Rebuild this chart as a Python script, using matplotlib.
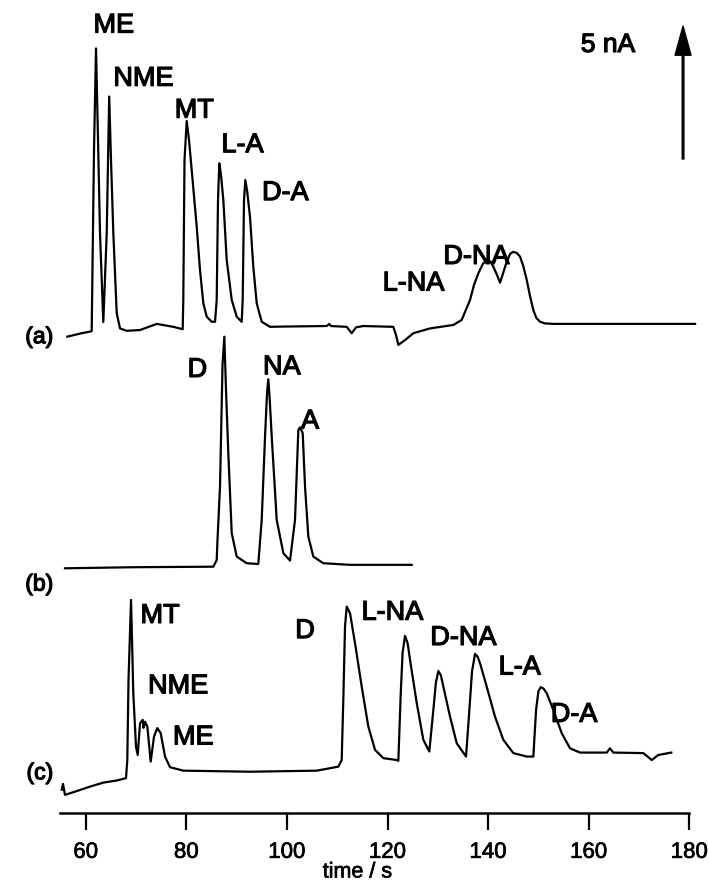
import numpy as np
import matplotlib.pyplot as plt
import matplotlib.patheffects as pe

plt.rcParams['font.family'] = ['Liberation Sans', 'DejaVu Sans']

# trace (a): time / s, current / nA (relative to its own baseline)
t_a = [56.34, 59.20, 60.85, 61.19, 61.65, 62.05, 62.45, 62.84, 63.50, 64.18, 64.67,
       65.03, 65.49, 66.16, 66.82, 68.15, 70.80, 74.12, 77.42, 79.28, 79.40, 79.64,
       80.08, 80.54, 81.07, 82.07, 82.72, 83.38, 84.06, 85.05, 85.71, 86.04, 86.30,
       86.56, 86.90, 87.36, 88.03, 89.03, 90.02, 91.01, 91.21, 91.47, 91.73, 92.07,
       92.66, 93.32, 94.00, 94.99, 96.64, 99.29, 107.91, 108.43, 108.77, 111.89,
       112.88, 113.74, 115.19, 121.15, 121.69, 122.15, 123.48, 125.13, 128.45,
       133.08, 134.75, 136.40, 137.20, 138.05, 139.00, 139.84, 140.50, 141.03,
       141.70, 142.37, 143.00, 143.70, 144.40, 145.01, 145.70, 146.34, 147.00,
       147.68, 148.30, 148.99, 149.60, 150.32, 151.30, 152.96, 164.89, 181.14]
i_a = [-0.40, -0.27, -0.21, -0.19, 6.62, 10.44, 6.99, 3.50, 0.15, 3.50, 8.63,
       6.24, 3.50, 0.49, -0.09, -0.18, -0.15, 0.08, -0.03, -0.12, 0.98, 6.24,
       7.71, 6.99, 5.87, 3.73, 2.11, 0.86, 0.35, 0.16, 0.16, 0.98, 4.74,
       6.12, 5.68, 4.74, 2.48, 0.98, 0.35, 0.16, 0.98, 4.74, 5.49, 5.11,
       4.11, 2.23, 0.85, 0.16, -0.03, -0.02, 0.00, 0.08, 0.00, -0.03,
       -0.27, -0.05, 0.00, -0.03, -0.34, -0.71, -0.53, -0.27, -0.09,
       0.04, 0.23, 0.98, 1.55, 1.98, 2.35, 2.48, 2.42, 2.23,
       1.95, 1.63, 2.00, 2.42, 2.72, 2.79, 2.75, 2.61, 2.25,
       1.73, 1.15, 0.60, 0.30, 0.16, 0.10, 0.08, 0.08, 0.08]

# trace (b)
t_b = [55.88, 69.46, 85.37, 86.04, 86.20, 86.70, 87.20, 87.56, 87.89, 88.35, 89.03,
       90.02, 92.01, 94.31, 94.99, 95.65, 96.05, 96.30, 96.55, 96.98, 97.97, 99.29,
       100.62, 101.61, 102.27, 102.61, 103.14, 103.60, 104.26, 105.25, 107.24,
       112.55, 124.81]
i_b = [-0.05, -0.01, 0.01, 0.26, 1.02, 3.02, 7.60, 8.66, 6.66, 4.28, 1.27,
       0.39, 0.14, 0.11, 1.77, 4.90, 6.55, 7.06, 6.40, 4.90, 1.77, 0.52,
       0.24, 1.77, 5.15, 5.25, 5.03, 3.02, 1.14, 0.39, 0.14,
       0.08, 0.08]

# trace (c)
t_c = [55.23, 55.49, 55.88, 56.88, 57.87, 60.85, 63.50, 66.16, 68.01, 68.27, 68.51,
       69.01, 69.21, 69.46, 70.00, 70.34, 70.80, 71.34, 71.49, 71.79, 72.25, 72.92,
       73.58, 74.23, 74.91, 75.77, 76.76, 79.40, 92.66, 105.92, 110.22, 110.89,
       111.21, 111.55, 111.89, 112.55, 113.54, 114.87, 116.18, 117.52, 119.17,
       121.83, 122.15, 122.63, 123.00, 123.48, 124.00, 124.48, 125.81, 127.12,
       128.31, 129.11, 129.60, 130.10, 130.60, 131.10, 132.43, 133.76, 135.61,
       136.27, 136.80, 137.40, 137.90, 138.39, 139.72, 141.37, 143.02, 145.01,
       147.68, 148.99, 149.53, 150.00, 150.46, 151.00, 151.65, 152.96, 154.63,
       156.28, 158.27, 163.58, 164.23, 164.89, 170.86, 172.53, 173.84, 176.41]
i_c = [-0.71, -0.49, -0.90, -0.84, -0.78, -0.59, -0.44, -0.36, -0.27, 0.41, 3.42,
       6.43, 4.93, 2.92, 0.91, 0.60, 1.79, 1.92, 1.62, 1.85, 1.67, 0.35,
       1.29, 1.61, 1.42, 0.54, 0.14, 0.01, -0.03, 0.01, 0.16, 0.41,
       2.67, 5.43, 6.18, 5.93, 4.80, 3.17, 1.67, 0.79, 0.48,
       0.41, 0.38, 2.92, 4.45, 5.08, 4.80, 4.17, 2.55, 1.17,
       0.73, 2.29, 3.30, 3.76, 3.60, 3.17, 2.04, 1.04, 0.54,
       2.29, 3.75, 4.40, 4.30, 4.05, 3.17, 2.04, 1.17, 0.67,
       0.54, 0.54, 2.29, 3.00, 3.15, 3.10, 2.92, 2.29, 1.42,
       0.85, 0.69, 0.69, 0.85, 0.69, 0.67, 0.41, 0.60, 0.69]

offsets = {'a': 18.30, 'b': 9.24, 'c': 1.57}

# peak labels: (text, time, current in nA on the plot)
labels_a = [('ME', 65.6, 29.6), ('NME', 71.5, 27.6), ('MT', 81.6, 26.4),
            ('L-A', 91.2, 25.1), ('D-A', 99.7, 23.3), ('L-NA', 125.2, 19.9),
            ('D-NA', 137.7, 20.9)]
labels_b = [('D', 82.2, 16.65), ('NA', 99.0, 16.75), ('A', 104.6, 14.71)]
labels_c = [('MT', 74.8, 7.40), ('NME', 78.4, 4.75), ('ME', 81.4, 2.83),
            ('D', 103.6, 6.83), ('L-NA', 121.0, 7.52), ('D-NA', 135.1, 6.57),
            ('L-A', 146.3, 5.46), ('D-A', 157.1, 3.68)]

ticks = [60, 80, 100, 120, 140, 160, 180]

bold = [pe.withStroke(linewidth=0.9, foreground='black')]

fig = plt.figure(figsize=(7.09, 8.82), dpi=100)
ax = fig.add_axes([0.0776, 0.0786, 0.9168, 0.9214])
ax.set_xlim(53.90, 183.12)
ax.set_ylim(0, 30.56)

for t, i, k in [(t_a, i_a, 'a'), (t_b, i_b, 'b'), (t_c, i_c, 'c')]:
    ax.plot(t, np.array(i) + offsets[k], color='black', lw=1.6,
            solid_joinstyle='round')

for lab in (labels_a, labels_b, labels_c):
    for s, x, y in lab:
        ax.text(x, y, s, fontsize=19.5, ha='center', va='center', path_effects=bold)

for k, y in [('a', 17.9), ('b', 8.6), ('c', 1.5)]:
    ax.text(53.5, y, '(%s)' % k, fontsize=16.5, ha='right', va='center',
            path_effects=bold)

# 5 nA scale arrow
ax.annotate('', xy=(178.75, 29.58), xytext=(178.75, 24.58),
            arrowprops=dict(facecolor='black', edgecolor='black', width=1.2,
                            headwidth=11.5, headlength=21, shrink=0))
ax.text(163.84, 28.87, '5 nA', fontsize=19, ha='center', va='center', path_effects=bold)

for side in ['left', 'top', 'right']:
    ax.spines[side].set_visible(False)
ax.spines['bottom'].set_linewidth(1.8)
ax.spines['bottom'].set_bounds(54.9, 180)
ax.set_yticks([])
ax.set_xticks(ticks)
ax.tick_params(axis='x', direction='out', length=12, width=1.6, labelsize=16, pad=9)
for lbl in ax.get_xticklabels():
    lbl.set_path_effects([pe.withStroke(linewidth=0.5, foreground='black')])
ax.text(114.0, -2.23, 'time / s', fontsize=15.5, ha='center', va='center',
        path_effects=[pe.withStroke(linewidth=0.5, foreground='black')])

fig.savefig('out.png', dpi=100)
